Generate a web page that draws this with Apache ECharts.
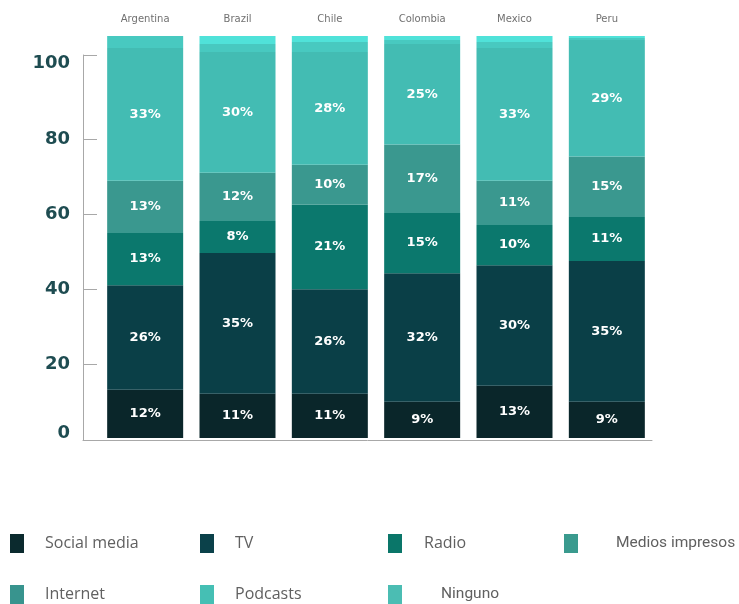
<!DOCTYPE html>
<html>
<head>
<meta charset="utf-8">
<script src="https://cdn.jsdelivr.net/npm/echarts@6/dist/echarts.min.js"></script>
<style>
  html, body { margin: 0; padding: 0; background: #ffffff; }
  #chart { width: 739px; height: 604px; }
</style>
</head>
<body>
<div id="chart"></div>
<script>
// Countries along the top axis
const countries = ['Argentina', 'Brazil', 'Chile', 'Colombia', 'Mexico', 'Peru'];

// Share of each medium per country (%), stacked bottom to top
const socialMedia    = [12, 11, 11, 9, 13, 9];
const tv             = [26, 35, 26, 32, 30, 35];
const radio          = [13, 8, 21, 15, 10, 11];
const mediosImpresos = [13, 12, 10, 17, 11, 15];
const internet       = [33, 30, 28, 25, 33, 29];
const podcasts       = [3, 2, 2.5, 1, 1.5, 0.5];
const ninguno        = [0, 2, 1.5, 1, 1.5, 0.5];

// Ticks of the left scale
const yTickLabels = [0, 20, 40, 60, 80, 100];

const seriesDefs = [
  { name: 'Social media',    data: socialMedia,    color: '#0a262a', label: true },
  { name: 'TV',              data: tv,             color: '#0a3f47', label: true },
  { name: 'Radio',           data: radio,          color: '#0b786d', label: true },
  { name: 'Medios impresos', data: mediosImpresos, color: '#3a988f', label: true },
  { name: 'Internet',        data: internet,       color: '#43bcb3', label: true },
  { name: 'Podcasts',        data: podcasts,       color: '#48c9c0', label: false },
  { name: 'Ninguno',         data: ninguno,        color: '#50e2d9', label: false }
];

// Legend swatches and their placement
const legendItems = [
  { name: 'Social media',    color: '#0b2a2e', left: 10,  top: 534, gap: 16, font: 'Open Sans', size: 16, shift: 0 },
  { name: 'TV',              color: '#0b414a', left: 200, top: 534, gap: 16, font: 'Open Sans', size: 16, shift: 0 },
  { name: 'Radio',           color: '#0a7669', left: 388, top: 534, gap: 17, font: 'Open Sans', size: 16, shift: 0 },
  { name: 'Medios impresos', color: '#3a9a8e', left: 564, top: 534, gap: 33, font: 'Roboto', size: 15.5, shift: 0 },
  { name: 'Internet',        color: '#38948e', left: 10,  top: 585, gap: 16, font: 'Open Sans', size: 16, shift: 0 },
  { name: 'Podcasts',        color: '#45bfb4', left: 200, top: 585, gap: 16, font: 'Open Sans', size: 16, shift: 0 },
  { name: 'Ninguno',         color: '#4bbdb3', left: 388, top: 585, gap: 34, font: 'Roboto', size: 15.5, shift: 18 }
];

const chart = echarts.init(document.getElementById('chart'), null, { renderer: 'canvas' });

const option = {
  backgroundColor: '#ffffff',
  animation: false,
  grid: [
    { left: 99, right: 86, top: 36, bottom: 166 },
    { left: 83, right: 87, top: 55, bottom: 164 }
  ],
  xAxis: [
    {
      type: 'category', gridIndex: 0, position: 'top', data: countries,
      axisLine: { show: false }, axisTick: { show: false },
      axisLabel: { color: '#707070', fontSize: 10, fontFamily: 'DejaVu Sans', margin: 12 }
    },
    {
      type: 'category', gridIndex: 1, data: countries,
      axisLine: { show: true, lineStyle: { color: '#a8a8a8', width: 1 } },
      axisTick: { show: false }, axisLabel: { show: false }
    }
  ],
  yAxis: [
    { type: 'value', gridIndex: 0, min: 0, max: 100, show: false },
    {
      type: 'value', gridIndex: 1, min: 0, max: 102.3, interval: 20,
      splitLine: { show: false },
      axisLine: { show: true, lineStyle: { color: '#a8a8a8', width: 1 } },
      axisTick: { show: true, inside: true, length: 14, lineStyle: { color: '#a8a8a8' },
                  customValues: [20, 40, 60, 80, 102.3] },
      axisLabel: {
        customValues: yTickLabels,
        color: '#1e4c51', fontSize: 18, fontWeight: 'bold', fontFamily: 'DejaVu Sans', margin: 13,
        formatter: function (v) { return v === 0 ? '{z|0}' : String(v); },
        rich: { z: { color: '#1e4c51', fontSize: 18, fontWeight: 'bold', fontFamily: 'DejaVu Sans', padding: [0, 0, 14, 0] } }
      }
    }
  ],
  legend: legendItems.map(function (it) {
    return {
      left: it.left, top: it.top, orient: 'horizontal',
      itemWidth: 14, itemHeight: 19, icon: 'rect', padding: 0,
      data: [{ name: it.name, itemStyle: { color: it.color, borderWidth: 0 } }],
      textStyle: { color: '#606060', fontSize: it.size, fontFamily: it.font,
                   padding: [0, 0, it.shift, it.gap] }
    };
  }),
  series: seriesDefs.map(function (s) {
    return {
      name: s.name, type: 'bar', stack: 'total', xAxisIndex: 0, yAxisIndex: 0,
      barWidth: 76, data: s.data,
      itemStyle: { color: s.color, borderWidth: 0 },
      label: {
        show: s.label, position: 'inside', formatter: '{c}%',
        color: '#ffffff', fontSize: 13, fontWeight: 'bold', fontFamily: 'DejaVu Sans'
      },
      emphasis: { disabled: true }
    };
  })
};

chart.setOption(option);
</script>
</body>
</html>
